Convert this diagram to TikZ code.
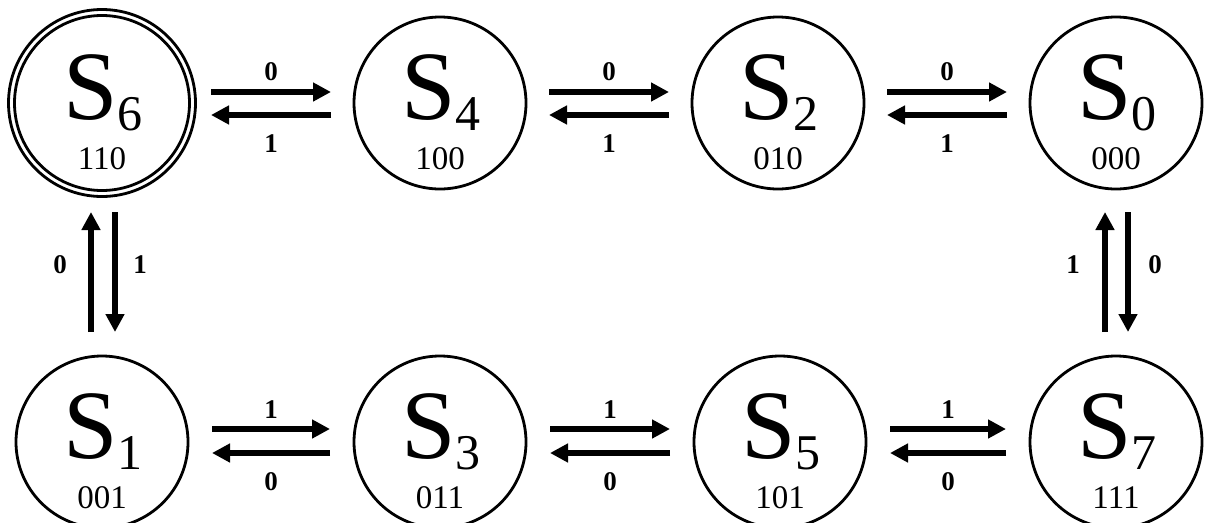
\documentclass[tikz,border=0pt]{standalone}
\usepackage{fontspec}
\setmainfont{Liberation Serif}
\usetikzlibrary{arrows.meta,calc}
\tikzset{
  state/.style={circle, draw, line width=2.8pt, minimum size=172pt, inner sep=0pt},
  bigS/.style={anchor=base, inner sep=0pt},
  code/.style={anchor=base, inner sep=0pt},
  lab/.style={inner sep=0pt},
  arr/.style={line width=6.5pt, -{Triangle[length=18pt,width=18pt]}},
}
\newcommand{\stname}[1]{\fontsize{98}{98}\selectfont S\raisebox{-11pt}{\fontsize{50}{50}\selectfont #1}}
\newcommand{\stcode}[1]{\fontsize{33}{33}\selectfont #1}
\newcommand{\lbl}[1]{\fontsize{27}{27}\selectfont\bfseries #1}
\begin{document}
\begin{tikzpicture}[x=1pt,y=-1pt]
\useasboundingbox (0,0) rectangle (1209,522);

% states
\node[state, minimum size=175pt] (s6) at (102,103) {};
\draw[line width=2.8pt] (s6.center) circle[radius=93.5pt];
\node[state] (s4) at (440,103) {};
\node[state] (s2) at (778,103) {};
\node[state] (s0) at (1116,103) {};
\node[state] (s1) at (102,442) {};
\node[state] (s3) at (440,442) {};
\node[state] (s5) at (780,442) {};
\node[state] (s7) at (1116,442) {};

% names and codes
\node[bigS] (t6) at ($(s6)+(1,16)$) {\stname{6}};
\node[bigS] (t4) at ($(s4)+(1,16)$) {\stname{4}};
\node[bigS] (t2) at ($(s2)+(1,16)$) {\stname{2}};
\node[bigS] (t0) at ($(s0)+(1,16)$) {\stname{0}};
\node[bigS] (t1) at ($(s1)+(1,16)$) {\stname{1}};
\node[bigS] (t3) at ($(s3)+(1,16)$) {\stname{3}};
\node[bigS] (t5) at ($(s5)+(1,16)$) {\stname{5}};
\node[bigS] (t7) at ($(s7)+(1,16)$) {\stname{7}};
\node[code] (c6) at ($(s6)+(0,66)$) {\stcode{110}};
\node[code] (c4) at ($(s4)+(0,66)$) {\stcode{100}};
\node[code] (c2) at ($(s2)+(0,66)$) {\stcode{010}};
\node[code] (c0) at ($(s0)+(0,66)$) {\stcode{000}};
\node[code] (c1) at ($(s1)+(0,66)$) {\stcode{001}};
\node[code] (c3) at ($(s3)+(0,66)$) {\stcode{011}};
\node[code] (c5) at ($(s5)+(0,66)$) {\stcode{101}};
\node[code] (c7) at ($(s7)+(0,66)$) {\stcode{111}};

% top row
\foreach \a/\b [count=\i] in {s6/s4,s4/s2,s2/s0}{
  \draw[arr] ($(\a)+(109,-11)$) -- ($(\b)+(-109,-11)$);
  \draw[arr] ($(\b)+(-109,12)$) -- ($(\a)+(109,12)$);
  \node[lab] (tz\i) at ($(\a)!0.5!(\b)+(0,-31)$) {\lbl{0}};
  \node[lab] (to\i) at ($(\a)!0.5!(\b)+(0,41)$) {\lbl{1}};
}

% bottom row
\foreach \a/\b [count=\i] in {s1/s3,s3/s5,s5/s7}{
  \draw[arr] ($(\a)+(110,-13)$) -- ($(\b)+(-110,-13)$);
  \draw[arr] ($(\b)+(-110,11)$) -- ($(\a)+(110,11)$);
  \node[lab] (bo\i) at ($(\a)!0.5!(\b)+(0,-32)$) {\lbl{1}};
  \node[lab] (bz\i) at ($(\a)!0.5!(\b)+(0,40)$) {\lbl{0}};
}

% left vertical
\draw[arr] ($(s1)+(-11,-110)$) -- ($(s6)+(-11,109)$);
\draw[arr] ($(s6)+(13,109)$) -- ($(s1)+(13,-110)$);
\node[lab] (lz) at ($(s6)+(-42,162)$) {\lbl{0}};
\node[lab] (lo) at ($(s6)+(38,162)$) {\lbl{1}};

% right vertical
\draw[arr] ($(s7)+(-11,-110)$) -- ($(s0)+(-11,109)$);
\draw[arr] ($(s0)+(12,109)$) -- ($(s7)+(12,-110)$);
\node[lab] (ro) at ($(s0)+(-43,162)$) {\lbl{1}};
\node[lab] (rz) at ($(s0)+(39,162)$) {\lbl{0}};
\end{tikzpicture}
\end{document}
